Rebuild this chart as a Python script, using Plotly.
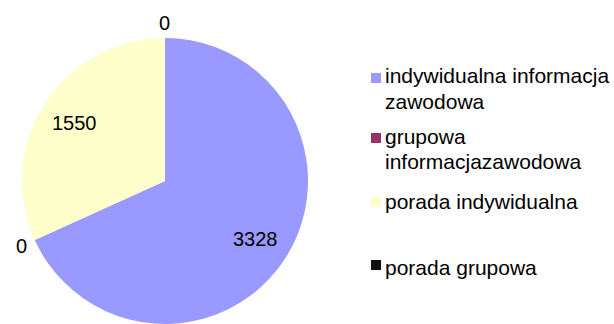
import math
import plotly.graph_objects as go

# Liczba udzielonych usług wg formy
categories = [
    "indywidualna informacja zawodowa",
    "grupowa informacjazawodowa",
    "porada indywidualna",
    "porada grupowa",
]
legend_lines = [
    ["indywidualna informacja", "zawodowa"],
    ["grupowa", "informacjazawodowa"],
    ["porada indywidualna"],
    ["porada grupowa"],
]
values = [3328, 0, 1550, 0]
colors = ["#9999FF", "#993366", "#FFFFCC", "#111111"]

W, H = 614, 324
FONT = "Liberation Sans, Arial, sans-serif"

# pie placement (pixels)
pie_top = 38
pie_box_w = 330
radius = (H - pie_top) / 2
cx = pie_box_w / 2
cy = pie_top + radius

fig = go.Figure(
    go.Pie(
        labels=categories,
        values=values,
        sort=False,
        direction="clockwise",
        rotation=0,
        marker=dict(colors=colors, line=dict(width=0)),
        textinfo="none",
        hoverinfo="label+value",
        showlegend=False,
        domain=dict(x=[0, pie_box_w / W], y=[0, 1 - pie_top / H]),
    )
)

# value labels along each slice's bisector
total = sum(values)
cum = 0
annotations = []
for v in values:
    mid = (cum + v / 2) / total
    cum += v
    theta = 2 * math.pi * mid
    k = 0.75 if v > 0 else 1.105
    px = cx + radius * k * math.sin(theta)
    py = cy - radius * k * math.cos(theta)
    annotations.append(
        dict(
            x=px / W, y=1 - py / H, xref="paper", yref="paper",
            text=str(v), showarrow=False,
            xanchor="center", yanchor="middle",
            font=dict(family=FONT, size=20, color="#000000"),
        )
    )

# legend: colour squares and wrapped category names
legend_first_line_y = [76, 136, 201, 267]
marker_y = [78, 138, 202, 265]
line_gap = 25
shapes = []
for lines, col, y0, my in zip(legend_lines, colors, legend_first_line_y, marker_y):
    shapes.append(
        dict(
            type="rect", xref="paper", yref="paper",
            x0=371 / W, x1=381 / W,
            y0=1 - (my + 5) / H, y1=1 - (my - 5) / H,
            fillcolor=col, line=dict(width=0),
        )
    )
    for j, line in enumerate(lines):
        ly = y0 + j * line_gap
        annotations.append(
            dict(
                x=383 / W, y=1 - ly / H, xref="paper", yref="paper",
                text=line, showarrow=False,
                xanchor="left", yanchor="middle",
                font=dict(family=FONT, size=21, color="#000000"),
            )
        )

fig.update_layout(
    width=W,
    height=H,
    margin=dict(l=0, r=0, t=0, b=0, pad=0),
    paper_bgcolor="#FFFFFF",
    plot_bgcolor="#FFFFFF",
    annotations=annotations,
    shapes=shapes,
)

fig.write_html("out.html")
